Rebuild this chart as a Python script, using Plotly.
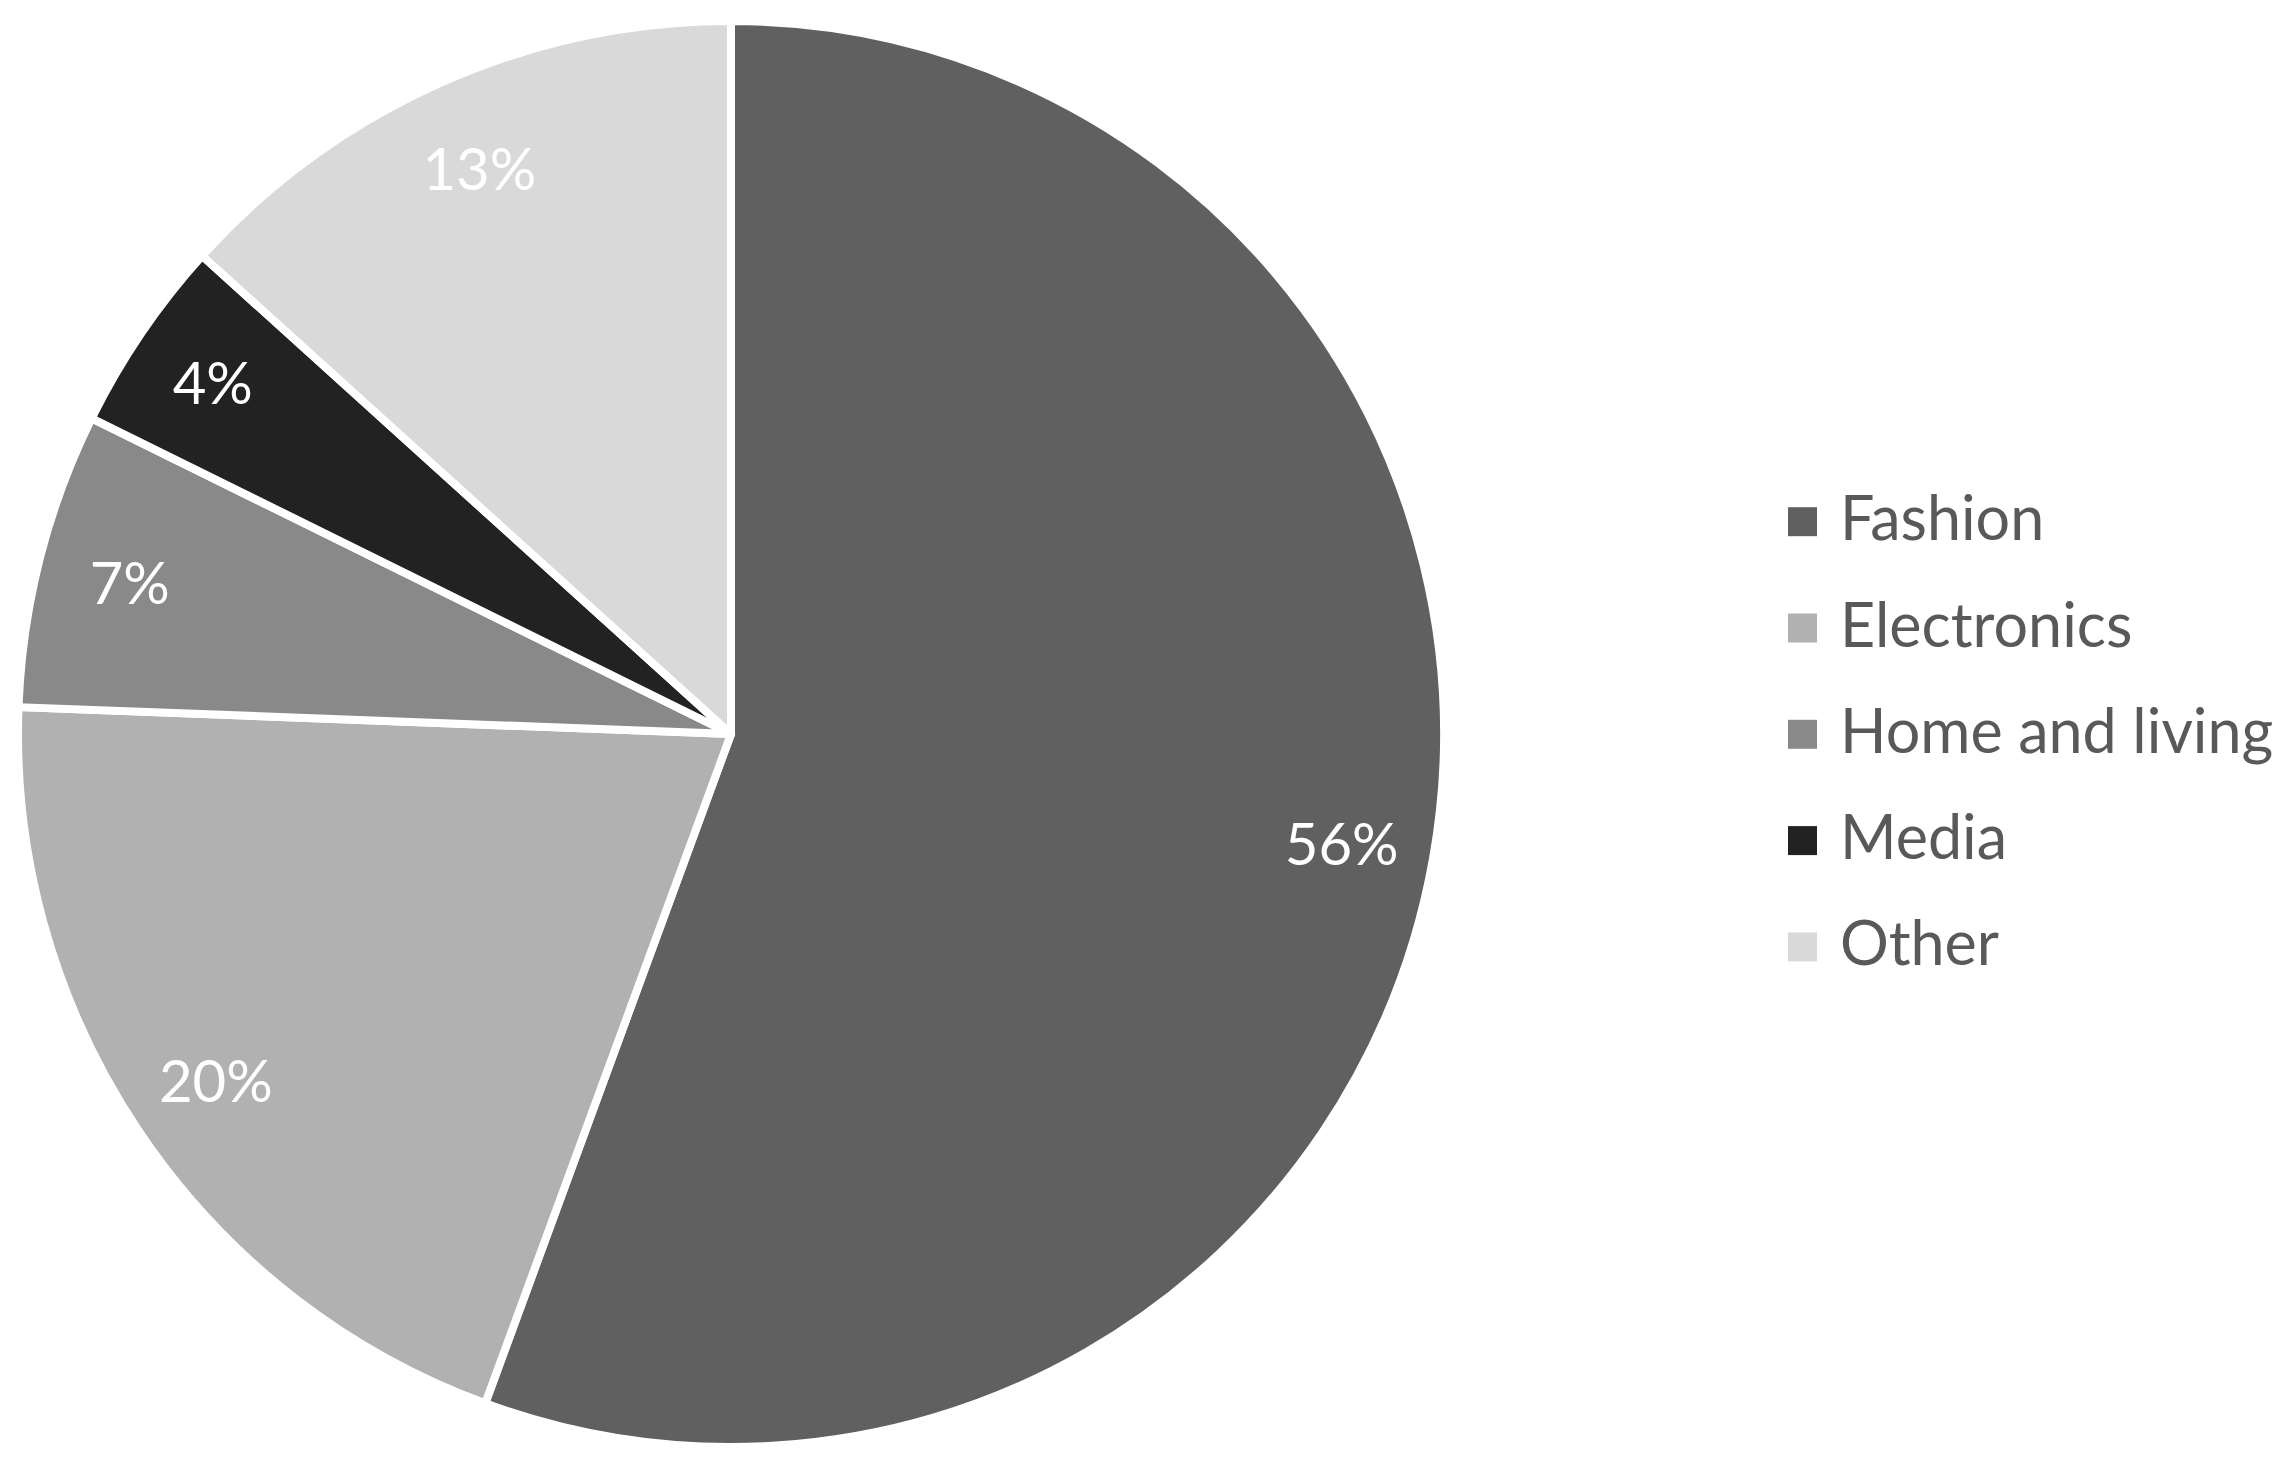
import plotly.graph_objects as go

labels = ["Fashion", "Electronics", "Home and living", "Media", "Other"]
values = [55.6, 20.0, 6.7, 4.4, 13.3]
colors = ["#606060", "#b1b1b1", "#898989", "#222222", "#d9d9d9"]

W, H = 2291, 1463
FONT = "Lato"
TEXT_COLOR = "#595959"
OFF = 8  # page body margin

# pie placement (pixels, as seen on the page)
cx, cy, r = 731 - OFF, 734 - OFF, 713
dom_x = [(cx - r) / W, (cx + r) / W]
dom_y = [(H - (cy + r)) / H, (H - (cy - r)) / H]

fig = go.Figure()

# main pie slices
fig.add_trace(go.Pie(
    labels=labels, values=values, sort=False, direction="clockwise", rotation=0,
    marker=dict(colors=colors, line=dict(color="white", width=8)),
    textinfo="none", showlegend=False, domain=dict(x=dom_x, y=dom_y),
    hoverinfo="label+percent",
))

# transparent ring overlay that carries the percentage labels near the rim
fig.add_trace(go.Pie(
    labels=labels, values=values, sort=False, direction="clockwise", rotation=0,
    hole=0.74,
    marker=dict(colors=["rgba(0,0,0,0)"] * len(values), line=dict(width=0)),
    texttemplate="%{percent:.0%}", textposition="inside",
    insidetextorientation="horizontal",
    insidetextfont=dict(family=FONT, size=58, color="white"),
    showlegend=False, domain=dict(x=dom_x, y=dom_y), hoverinfo="skip",
))

# custom legend (large square swatches)
leg_x0 = 1788 - OFF
sw = 29
leg_y0 = 521.7 - OFF
step = 106.3
shapes = []
annotations = []
for i, (lab, col) in enumerate(zip(labels, colors)):
    yc = leg_y0 + i * step
    shapes.append(dict(
        type="rect", xref="paper", yref="paper",
        x0=leg_x0 / W, x1=(leg_x0 + sw) / W,
        y0=(H - (yc + sw / 2)) / H, y1=(H - (yc - sw / 2)) / H,
        fillcolor=col, line=dict(width=0),
    ))
    annotations.append(dict(
        xref="paper", yref="paper", x=(1838 - OFF) / W, y=(H - (yc - 5)) / H,
        xanchor="left", yanchor="middle", showarrow=False, text=lab,
        font=dict(family=FONT, size=61, color=TEXT_COLOR),
    ))

fig.update_layout(
    width=W, height=H, margin=dict(l=0, r=0, t=0, b=0),
    paper_bgcolor="white", plot_bgcolor="white",
    uniformtext=dict(minsize=58, mode="show"),
    shapes=shapes, annotations=annotations,
    font=dict(family=FONT),
)

fig.write_html("out.html")
